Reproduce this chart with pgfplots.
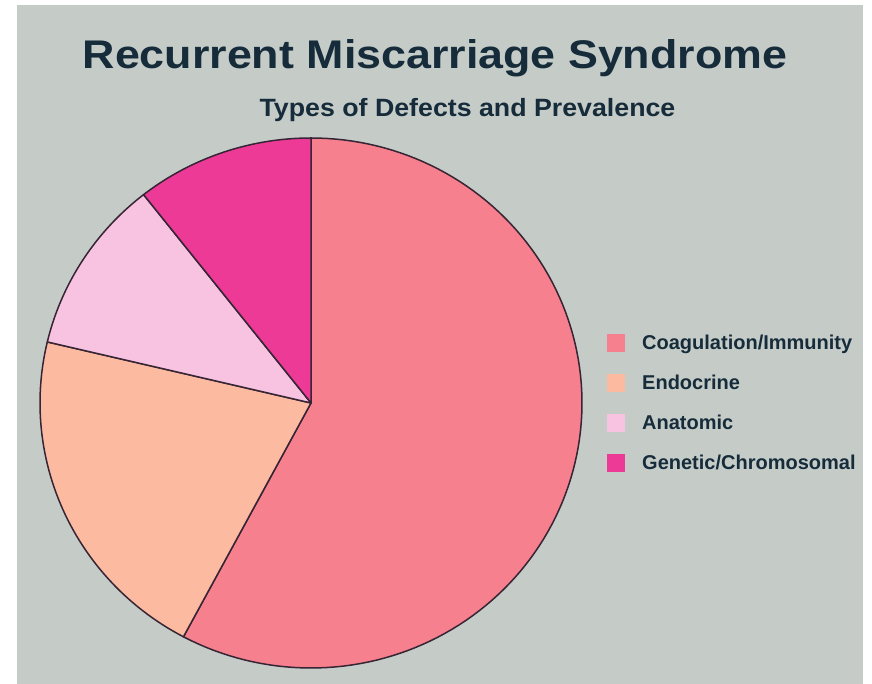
\documentclass[border=0pt]{standalone}
\usepackage{fontspec}
\setmainfont{Liberation Sans}
\usepackage{pgfplots}
\usepackage{pgfplotstable}
\pgfplotsset{compat=1.18}

\definecolor{bggray}{RGB}{197,204,200}
\definecolor{titleink}{RGB}{22,44,58}
\definecolor{edge}{RGB}{55,36,52}
\definecolor{coag}{RGB}{246,128,141}
\definecolor{endo}{RGB}{252,186,160}
\definecolor{anat}{RGB}{248,195,224}
\definecolor{gene}{RGB}{236,58,150}

% share of each defect type, in percent
\pgfplotstableread[col sep=comma]{
type,share
Coagulation/Immunity,57.8
Endocrine,20.9
Anatomic,10.7
Genetic/Chromosomal,10.6
}\defects

\pgfplotstablegetelem{0}{share}\of\defects \let\sA\pgfplotsretval
\pgfplotstablegetelem{1}{share}\of\defects \let\sB\pgfplotsretval
\pgfplotstablegetelem{2}{share}\of\defects \let\sC\pgfplotsretval
\pgfplotstablegetelem{3}{share}\of\defects \let\sD\pgfplotsretval
% slices run clockwise from twelve o'clock
\pgfmathsetmacro{\aA}{90}
\pgfmathsetmacro{\aB}{\aA-3.6*\sA}
\pgfmathsetmacro{\aC}{\aB-3.6*\sB}
\pgfmathsetmacro{\aD}{\aC-3.6*\sC}
\pgfmathsetmacro{\aE}{\aD-3.6*\sD}
\def\cx{311}\def\cy{281}\def\rx{271}\def\ry{265}

\begin{document}
\begin{tikzpicture}
\begin{axis}[
  scale only axis, width=872pt, height=684pt,
  xmin=0, xmax=872, ymin=0, ymax=684,
  hide axis, clip=false,
  legend style={draw=none, fill=none, at={(axis cs:607,350)}, anchor=north west,
    font=\bfseries\fontsize{20}{24}\selectfont, text=titleink,
    row sep=22pt, column sep=9pt, inner sep=0pt,
    nodes={inner xsep=8pt, inner ysep=0pt}},
  legend cell align=left,
  legend image code/.code={\fill[#1,draw=none] (0pt,-9pt) rectangle (18pt,9pt);},
]
\fill[white] (axis cs:0,0) rectangle (axis cs:872,684);
\fill[bggray] (axis cs:17,0) rectangle (axis cs:863,679);
\coordinate (pagell) at (axis cs:0,0);
\coordinate (pageur) at (axis cs:872,684);

\addplot[fill=coag, draw=edge, line width=1.5pt, line join=round, domain=\aB:\aA, samples=120, variable=\t]
  ({\cx+\rx*cos(\t)},{\cy+\ry*sin(\t)}) -- (axis cs:\cx,\cy) -- cycle;
\addlegendentry{Coagulation/Immunity}
\addplot[fill=endo, draw=edge, line width=1.5pt, line join=round, domain=\aC:\aB, samples=60, variable=\t]
  ({\cx+\rx*cos(\t)},{\cy+\ry*sin(\t)}) -- (axis cs:\cx,\cy) -- cycle;
\addlegendentry{Endocrine}
\addplot[fill=anat, draw=edge, line width=1.5pt, line join=round, domain=\aD:\aC, samples=40, variable=\t]
  ({\cx+\rx*cos(\t)},{\cy+\ry*sin(\t)}) -- (axis cs:\cx,\cy) -- cycle;
\addlegendentry{Anatomic}
\addplot[fill=gene, draw=edge, line width=1.5pt, line join=round, domain=\aE:\aD, samples=40, variable=\t]
  ({\cx+\rx*cos(\t)},{\cy+\ry*sin(\t)}) -- (axis cs:\cx,\cy) -- cycle;
\addlegendentry{Genetic/Chromosomal}

\node[anchor=base, text=titleink, font=\bfseries\fontsize{40}{48}\selectfont, inner sep=0pt]
  at (axis cs:435,615) {\scalebox{1.12}[1]{Recurrent Miscarriage Syndrome}};
\node[anchor=base, text=titleink, font=\bfseries\fontsize{25}{30}\selectfont, inner sep=0pt]
  at (axis cs:467.5,567) {\scalebox{1.07}[1]{Types of Defects and Prevalence}};
\end{axis}
\pgfresetboundingbox
\path[use as bounding box] (pagell) rectangle (pageur);
\end{tikzpicture}
\end{document}
